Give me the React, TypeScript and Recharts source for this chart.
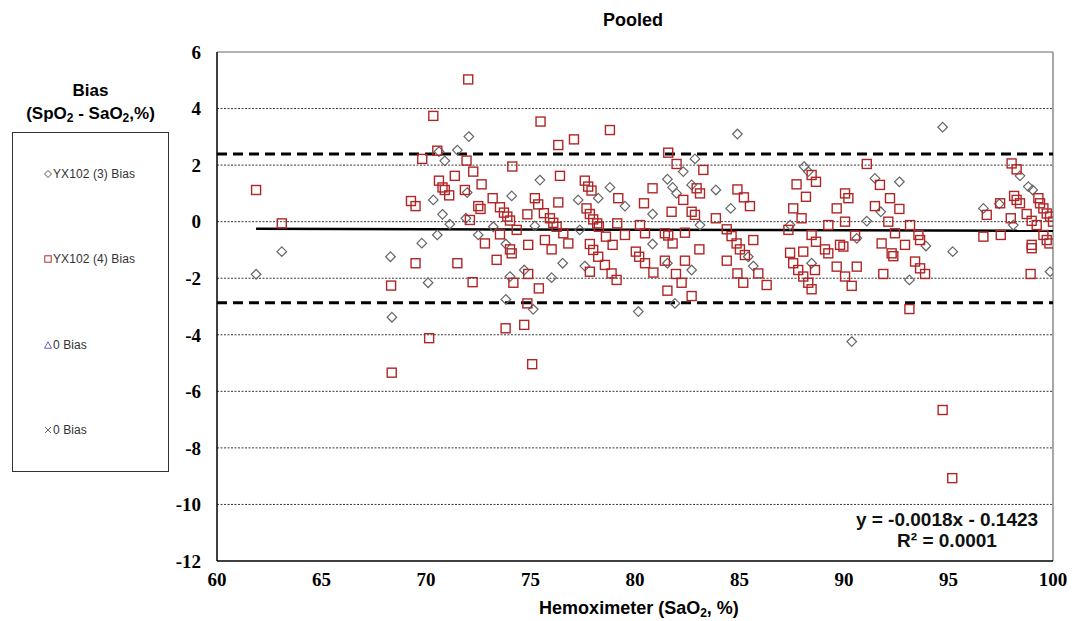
import React from "react";
import {
  ScatterChart,
  Scatter,
  XAxis,
  YAxis,
  ReferenceLine,
} from "recharts";

// YX102 (3) bias points [SaO2, bias]
const bias3: [number, number][] = [
  [63.1, -1.06], [61.87, -1.86], [68.3, -1.24], [68.37, -3.38], [69.8, -0.76], [70.1, -2.16],
  [72.05, 3.01], [71.5, 2.53], [70.9, 2.15], [70.62, 2.48], [71.97, 1.03], [70.35, 0.77],
  [70.79, 0.26], [71.14, -0.09], [70.54, -0.47], [71.91, 0.12], [72.5, -0.47], [73.22, -0.18],
  [74.1, 0.91], [75.45, 1.47], [75.21, -0.15], [73.82, -0.79], [74.02, -1.94], [74.7, -1.71],
  [76.01, -1.98], [76.54, -1.47], [77.6, -1.57], [77.28, 0.77], [78.24, 0.83], [78.8, 1.21],
  [79.52, 0.55], [73.82, -2.75], [75.13, -3.1], [80.16, -3.18], [77.36, -0.29],
  [84.9, 3.1], [82.87, 2.22], [82.31, 1.77], [81.55, 1.5], [81.8, 1.21], [81.99, 1.0],
  [82.71, 1.3], [83.87, 1.12], [84.58, 0.47], [83.11, -0.12], [80.84, 0.27], [80.84, -0.79],
  [82.71, -1.71], [81.55, -1.47], [81.91, -2.89], [85.42, -1.24], [85.66, -1.57], [88.09, 1.95],
  [88.29, 1.77], [87.42, -0.12], [88.45, -1.47], [90.37, -4.24],
  [94.72, 3.34], [91.48, 1.53], [92.65, 1.41], [91.76, 0.35], [91.09, 0.02], [90.61, -0.59],
  [93.92, -0.86], [95.2, -1.06], [93.13, -2.06], [96.67, 0.47], [97.43, 0.63], [98.1, -0.12],
  [98.42, 1.62], [98.82, 1.24], [99.03, 1.12], [99.86, -1.77],
];

// YX102 (4) bias points [SaO2, bias]
const bias4: [number, number][] = [
  [61.87, 1.12], [63.1, -0.06], [68.33, -2.26], [68.36, -5.34], [69.82, 2.22], [69.28, 0.73],
  [69.5, 0.55], [69.5, -1.47], [70.15, -4.12], [70.35, 3.74], [72.02, 5.03],
  [75.48, 3.54], [78.8, 3.24], [76.33, 2.71], [77.08, 2.91], [70.54, 2.51], [71.94, 2.16],
  [74.13, 1.95], [72.26, 1.77], [71.38, 1.62], [70.62, 1.45], [76.41, 1.62], [72.66, 1.32],
  [70.79, 1.21], [70.9, 1.12], [71.11, 0.93], [71.86, 1.12], [73.19, 0.83], [77.6, 1.45],
  [77.76, 1.24], [77.92, 1.1], [79.2, 0.83], [75.21, 0.83], [75.37, 0.61], [76.33, 0.68],
  [72.5, 0.55], [72.61, 0.45], [73.54, 0.51], [73.73, 0.32], [73.89, 0.18], [74.02, 0.04],
  [74.34, -0.29], [74.85, 0.26], [75.64, 0.3], [75.93, 0.12], [76.09, -0.04], [76.25, -0.18],
  [76.57, -0.41], [76.81, -0.77], [77.68, 0.47], [77.84, 0.27], [78.0, 0.08], [78.19, -0.06],
  [78.27, -0.18], [78.61, -0.53], [78.93, -0.82], [79.15, -0.06], [79.52, -0.47], [72.1, 0.06],
  [73.54, -0.45], [72.82, -0.77], [74.02, -0.98], [74.1, -1.12], [74.89, -0.82], [75.69, -0.65],
  [76.01, -0.98], [77.84, -0.79], [78.0, -1.0], [78.24, -1.24], [78.56, -1.53], [78.88, -1.83],
  [79.12, -2.06], [71.5, -1.47], [73.38, -1.35], [72.23, -2.14], [74.18, -2.16], [74.89, -1.85],
  [75.4, -2.36], [77.84, -1.77], [74.85, -2.89], [73.81, -3.77], [74.7, -3.65], [75.08, -5.04],
  [80.04, -1.06], [80.2, -1.24],
  [81.59, 2.44], [81.99, 2.04], [83.27, 1.83], [80.84, 1.18], [80.43, 0.65], [81.75, 0.35],
  [82.31, 0.77], [82.71, 0.35], [82.87, 0.24], [82.95, 1.18], [83.11, 1.0], [83.87, 0.12],
  [80.24, -0.12], [80.48, -0.41], [81.43, -0.41], [81.59, -0.49], [82.39, -0.39], [81.8, -0.77],
  [80.48, -1.47], [80.88, -1.8], [81.43, -1.38], [82.39, -1.38], [83.08, -0.98], [81.96, -1.85],
  [82.23, -2.16], [81.55, -2.44], [82.71, -2.63], [84.39, -1.38], [84.39, -0.27], [84.62, -0.51],
  [84.86, -0.77], [85.02, -0.98], [85.26, -1.18], [84.9, 1.14], [85.21, 0.86], [85.5, 0.55],
  [85.66, -0.65], [84.9, -1.83], [85.18, -2.16], [85.9, -1.83], [86.3, -2.24], [87.73, 1.32],
  [88.18, 0.88], [87.57, 0.47], [87.97, 0.12], [87.34, -0.29], [87.42, -1.1], [88.05, -1.06],
  [87.57, -1.47], [87.81, -1.71], [88.05, -1.94], [88.29, -2.16], [88.45, -2.39], [88.45, -0.47],
  [88.66, -0.71], [89.09, -0.98], [89.25, -1.12], [88.61, -1.71], [89.65, -1.59], [89.25, -0.12],
  [89.65, 0.47], [90.05, 1.0], [89.81, -0.82], [90.05, -1.94], [88.45, 1.65], [88.66, 1.41],
  [91.09, 2.04], [91.72, 1.3], [90.21, 0.83], [92.2, 0.83], [92.65, 0.45], [91.48, 0.55],
  [92.12, 0.0], [92.44, -0.41], [90.05, 0.0], [90.53, -0.49], [89.97, -0.88], [93.16, -0.12],
  [93.56, -0.47], [93.64, -0.65], [91.8, -0.77], [92.28, -1.12], [92.36, -1.22], [92.92, -0.82],
  [93.4, -1.41], [93.64, -1.65], [93.88, -1.85], [90.61, -1.59], [90.37, -2.27], [91.88, -1.85],
  [93.13, -3.09], [96.67, -0.53], [96.83, 0.24], [97.47, 0.65], [97.5, -0.47], [97.98, 0.12],
  [98.02, 2.06], [98.26, 1.85], [98.14, 0.91], [98.26, 0.77], [98.42, 0.65], [98.74, 0.27],
  [98.98, 0.03], [99.22, -0.12], [99.3, 0.83], [99.38, 0.65], [99.54, 0.47], [99.7, 0.29],
  [99.86, 0.18], [100.0, 0.0], [98.98, -0.82], [98.98, -0.94], [99.54, -0.47], [99.7, -0.65],
  [99.83, -0.77], [98.93, -1.85], [94.72, -6.66], [95.18, -9.07],
];

const xTicks = [60, 65, 70, 75, 80, 85, 90, 95, 100];
const yTicks = [6, 4, 2, 0, -2, -4, -6, -8, -10, -12];
const gridValues = [4, 2, 0, -2, -4, -6, -8, -10];
const limits = [2.39, -2.87];
// regression y = slope*x + intercept, drawn over the data range
const slope = -0.0018;
const intercept = -0.1423;
const trendRange = [61.87, 100];

const toPoints = (arr: [number, number][]) => arr.map(([x, y]) => ({ x, y }));
const trendSegment = trendRange.map((x) => ({ x, y: slope * x + intercept }));

const sans = "Liberation Sans";
const serif = "Liberation Serif";

const SquareShape = (props: any) => {
  const { cx, cy } = props;
  if (cx == null || cy == null) return <g />;
  return (
    <rect x={cx - 4.5} y={cy - 4.5} width={9} height={9} fill="none" stroke="#b02626" strokeWidth={1.4} />
  );
};

const DiamondShape = (props: any) => {
  const { cx, cy } = props;
  if (cx == null || cy == null) return <g />;
  return (
    <path
      d={`M${cx},${cy - 4.8}L${cx + 4.8},${cy}L${cx},${cy + 4.8}L${cx - 4.8},${cy}Z`}
      fill="none"
      stroke="#666"
      strokeWidth={1.2}
    />
  );
};

// tick labels hang off the library's own grid lines
const gridLabel = (value: number) => ({
  value,
  position: "left" as const,
  offset: 16,
  fill: "#000",
  fontFamily: serif,
  fontWeight: "bold",
  fontSize: 19,
});

const xLabel = (value: number) => ({
  value,
  position: "bottom" as const,
  offset: 12,
  fill: "#000",
  fontFamily: serif,
  fontWeight: "bold",
  fontSize: 19,
});

const legendItems = [
  { label: "YX102 (3) Bias", top: 174, marker: "diamond" },
  { label: "YX102 (4) Bias", top: 259, marker: "square" },
  { label: "0 Bias", top: 345, marker: "triangle" },
  { label: "0 Bias", top: 430, marker: "cross" },
];

function LegendMarker({ kind }: { kind: string }) {
  return (
    <svg width={8} height={8} style={{ marginRight: 1 }}>
      {kind === "diamond" && <path d="M4,0.5L7.5,4L4,7.5L0.5,4Z" fill="none" stroke="#555" strokeWidth={1} />}
      {kind === "square" && <rect x={0.8} y={0.8} width={6.4} height={6.4} fill="none" stroke="#b52a2a" strokeWidth={1} />}
      {kind === "triangle" && <path d="M4,0.8L7.5,7.2L0.5,7.2Z" fill="none" stroke="#6b5bc4" strokeWidth={1} />}
      {kind === "cross" && <path d="M1,1L7,7M7,1L1,7" stroke="#666" strokeWidth={1} />}
    </svg>
  );
}

const subStyle = { fontSize: 12, verticalAlign: "-3px", lineHeight: 0 };

export default function App() {
  return (
    <div style={{ position: "absolute", left: 0, top: 0, width: 1072, height: 621, background: "#fff" }}>
      <ScatterChart width={1072} height={621} margin={{ top: 52, right: 19, bottom: 0, left: 0 }}>
        <XAxis
          type="number"
          dataKey="x"
          domain={[60, 100]}
          ticks={xTicks}
          allowDataOverflow
          height={60}
          tickSize={5}
          axisLine={{ stroke: "#000", strokeWidth: 1.5 }}
          tickLine={{ stroke: "#000", strokeWidth: 1.2 }}
          tick={false}
        />
        <YAxis
          type="number"
          dataKey="y"
          domain={[-12, 6]}
          ticks={yTicks}
          width={217}
          tickSize={7}
          axisLine={{ stroke: "#000", strokeWidth: 1.5 }}
          tickLine={{ stroke: "#000", strokeWidth: 1.2 }}
          tick={false}
        />
        {gridValues.map((v) => (
          <ReferenceLine key={`g${v}`} y={v} stroke="#3a3a3a" strokeWidth={1} strokeDasharray="2 1.5" label={gridLabel(v)} />
        ))}
        <ReferenceLine y={6} stroke="#9a9a9a" strokeWidth={1.5} label={gridLabel(6)} />
        <ReferenceLine y={-12} stroke="none" label={gridLabel(-12)} />
        {xTicks.map((v) => (
          <ReferenceLine key={`x${v}`} x={v} stroke="none" label={xLabel(v)} />
        ))}
        <ReferenceLine x={100} stroke="#8a8a8a" strokeWidth={1.5} />
        {limits.map((v) => (
          <ReferenceLine key={`l${v}`} y={v} stroke="#000" strokeWidth={3} strokeDasharray="10 6" />
        ))}
        <Scatter data={toPoints(bias3)} shape={DiamondShape} isAnimationActive={false} />
        <Scatter data={toPoints(bias4)} shape={SquareShape} isAnimationActive={false} />
        <ReferenceLine segment={trendSegment} stroke="#000" strokeWidth={2.5} ifOverflow="visible" />
      </ScatterChart>

      <div
        style={{
          position: "absolute", left: 533, width: 200, top: 9, textAlign: "center",
          fontFamily: sans, fontWeight: "bold", fontSize: 18, lineHeight: "22px",
        }}
      >
        Pooled
      </div>

      <div
        style={{
          position: "absolute", left: 489, width: 300, top: 597, textAlign: "center",
          fontFamily: sans, fontWeight: "bold", fontSize: 18, lineHeight: "22px",
        }}
      >
        Hemoximeter (SaO<sub style={subStyle}>2</sub>, %)
      </div>

      <div
        style={{
          position: "absolute", left: 0, width: 181, top: 79, textAlign: "center",
          fontFamily: sans, fontWeight: "bold", fontSize: 17, lineHeight: "23px",
        }}
      >
        <div>Bias</div>
        <div>
          (SpO<sub style={subStyle}>2</sub> - SaO<sub style={subStyle}>2</sub>,%)
        </div>
      </div>

      <div
        style={{
          position: "absolute", left: 12, top: 132, width: 155, height: 338,
          border: "1.5px solid #333",
        }}
      />
      {legendItems.map((item, i) => (
        <div
          key={i}
          style={{
            position: "absolute", left: 44, top: item.top - 8, height: 16,
            display: "flex", alignItems: "center",
            fontFamily: sans, fontSize: 12, color: "#333", letterSpacing: 0.1,
          }}
        >
          <LegendMarker kind={item.marker} />
          {item.label}
        </div>
      ))}

      <div
        style={{
          position: "absolute", left: 827, width: 240, top: 509, textAlign: "center",
          fontFamily: sans, fontWeight: "bold", fontSize: 19, lineHeight: "21px", color: "#111",
        }}
      >
        <div>y = -0.0018x - 0.1423</div>
        <div>R² = 0.0001</div>
      </div>
    </div>
  );
}
